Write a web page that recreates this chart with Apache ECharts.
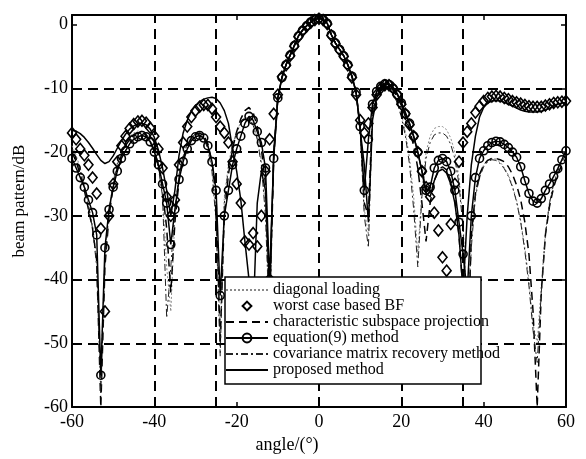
<!DOCTYPE html>
<html>
<head>
<meta charset="utf-8">
<script src="https://cdn.jsdelivr.net/npm/echarts@6/dist/echarts.min.js"></script>
<style>html,body{margin:0;padding:0;background:#fff;}#c{width:586px;height:459px;}</style>
</head>
<body>
<div id="c"></div>
<script>
// angle grid (degrees)
var angles = [-60,-59,-58,-57,-56,-55,-54,-53,-52,-51,-50,-49,-48,-47,-46,-45,-44,-43,-42,-41,
-40,-39,-38,-37,-36,-35,-34,-33,-32,-31,-30,-29,-28,-27,-26,-25,-24,-23,-22,-21,
-20,-19,-18,-17,-16,-15,-14,-13,-12,-11,-10,-9,-8,-7,-6,-5,-4,-3,-2,-1,
0,1,2,3,4,5,6,7,8,9,10,11,12,13,14,15,16,17,18,19,
20,21,22,23,24,25,26,27,28,29,30,31,32,33,34,35,36,37,38,39,
40,41,42,43,44,45,46,47,48,49,50,51,52,53,54,55,56,57,58,59,60];

var diagonalLoading = [-19,-20.5,-22.5,-25,-28,-31.5,-37,-55,-36,-29,
-24.5,-21.7,-20,-18.6,-17.6,-17,-16.7,-16.7,-17,-18,
-19.7,-22.3,-26.5,-38,-45,-30,-23.8,-20.7,-18.8,-17.7,
-17.2,-17.1,-17.6,-19.2,-22.5,-30,-48,-27,-22,-18.8,
-16.8,-15.3,-14.6,-14.6,-15.6,-17.8,-21.5,-29,-46,-20,
-11.5,-8.3,-6.3,-4.8,-3.3,-1.8,-0.9,-0.2,0.4,0.8,
1.0,0.8,0.2,-1.6,-2.9,-3.9,-4.9,-6.3,-8.1,-10.6,
-16.3,-29,-33,-13.8,-10.9,-9.9,-9.6,-9.8,-10.6,-12,
-14,-16.8,-21,-27,-36,-26,-20,-17.5,-16.3,-16,
-16,-16.5,-17.8,-20,-24,-31,-46,-34,-26.5,-23.5,
-22,-21.2,-21,-21.1,-21.6,-22.4,-23.6,-25.3,-27.6,-30.8,
-35,-40,-47,-50,-41,-32.5,-27.8,-24.8,-22.8,-21.3,-20.3];

var worstCase = [-17,-18,-19.5,-20.5,-22,-24,-26.5,-32,-45,-30,
-25,-21.5,-19,-17.5,-16.3,-15.6,-15.2,-15.1,-15.4,-16.2,
-17.5,-19.5,-22.5,-27,-30,-27.5,-22,-18.5,-16,-14.5,
-13.5,-12.9,-12.6,-12.6,-13.2,-14.5,-16,-17,-18.5,-21.5,
-25,-28,-34,-34.5,-32.7,-34.8,-30,-23,-18,-14,
-11,-8.2,-6.4,-4.9,-3.4,-1.9,-1,-0.3,0.3,0.7,
0.9,0.7,0.1,-1.7,-3,-4,-5,-6.4,-8.3,-11,
-15,-17,-15.5,-13,-11,-10,-9.5,-9.5,-10,-11,
-12.5,-14,-15.7,-17.5,-20,-23,-25.5,-27,-29.5,-32.3,
-36.5,-38.6,-31.3,-25,-21.5,-18.5,-16.8,-15.5,-13.8,-12.8,
-12,-11.5,-11.3,-11.2,-11.3,-11.5,-11.7,-12,-12.2,-12.4,
-12.6,-12.8,-12.9,-12.9,-12.9,-12.7,-12.5,-12.3,-12.2,-12.1,-12];

var subspaceProjection = [-20,-21.5,-23.5,-26,-29,-32,-37,-60,-38,-30,
-25.5,-22.5,-20.5,-19,-18,-17.3,-17,-17,-17.3,-18.2,
-19.8,-22,-26,-32,-42,-31,-24.5,-21,-19,-17.8,
-17.2,-17,-17.4,-18.7,-21.5,-27,-50,-30,-23.5,-19.5,
-16.8,-14.8,-13.5,-13,-13.8,-16,-19.5,-25,-45,-21,
-11.5,-8.3,-6.3,-4.8,-3.3,-1.8,-0.9,-0.2,0.4,0.8,
1.0,0.8,0.2,-1.6,-2.9,-3.9,-4.9,-6.3,-8.1,-10.6,
-16,-28,-30,-13,-10.8,-9.9,-9.6,-9.7,-10.3,-11.3,
-12.7,-14.5,-16.5,-19,-22.5,-28,-34,-28,-24.5,-22.8,
-22.3,-22.8,-24.5,-27.5,-33,-42,-55,-33,-26.5,-23.5,
-22,-21.3,-21,-21,-21.2,-21.5,-22.3,-23.5,-25.2,-27.5,
-31,-36,-45,-60,-42,-33,-28.5,-25.5,-23.5,-22,-21];

var equation9 = [-21,-22.5,-24,-25.5,-27.5,-29.5,-33,-55,-35,-29,
-25.5,-23,-21,-19.8,-18.7,-18,-17.6,-17.4,-17.6,-18.4,
-20,-22,-25,-28,-34.5,-29,-24.3,-21.5,-19.5,-18.2,
-17.6,-17.4,-17.8,-19,-21.5,-26,-42.5,-30,-26,-22,
-19.5,-17.5,-15.5,-14.4,-15,-16.8,-18.5,-22.5,-40,-21,
-11.5,-8.3,-6.3,-4.8,-3.3,-1.8,-0.9,-0.2,0.4,0.8,
1.0,0.8,0.2,-1.6,-2.9,-3.9,-4.9,-6.3,-8.1,-10.6,
-16,-26,-18,-12.5,-10.5,-9.7,-9.3,-9.4,-10,-11,
-12.3,-14,-15.5,-17.5,-20,-23,-26,-25.5,-22.5,-21.3,
-21,-21.5,-23,-26,-31,-36,-42,-30,-24,-21,
-19.8,-19,-18.5,-18.3,-18.4,-18.8,-19.3,-20,-20.8,-22.3,
-24.5,-26.5,-27.7,-28,-27.3,-26,-25,-23.8,-22.6,-21.2,-19.8];

var covarianceRecovery = [-19.5,-21,-23,-25.5,-28.5,-32,-38,-58,-37,-29.5,
-25,-22,-20.2,-18.8,-17.8,-17.2,-16.9,-16.9,-17.2,-18.2,
-20,-22.5,-27,-46,-38,-29,-23.5,-20.5,-18.7,-17.6,
-17.2,-17.2,-17.8,-19.5,-23,-31,-52,-28,-22.5,-19,
-17,-15.5,-14.8,-14.8,-15.8,-18,-22,-30,-48,-20,
-11.5,-8.3,-6.3,-4.8,-3.3,-1.8,-0.9,-0.2,0.4,0.8,
1.0,0.8,0.2,-1.6,-2.9,-3.9,-4.9,-6.3,-8.1,-10.6,
-16.5,-30,-35,-14,-11,-10,-9.7,-9.9,-10.8,-12.3,
-14.5,-17.5,-22,-29,-38,-27,-21,-18.5,-17.3,-17,
-17,-17.5,-18.8,-21,-25,-32,-48,-35,-27,-24,
-22.3,-21.5,-21.2,-21.3,-21.8,-22.6,-23.8,-25.5,-27.8,-31,
-35.5,-41,-48,-53,-42,-33,-28,-25,-23,-21.5,-20.5];

var proposed = [-16.6,-16.7,-17.1,-17.7,-18.5,-19.4,-20.4,-21.3,-21.8,-21.5,
-20.6,-19.4,-18.2,-17.2,-16.4,-15.9,-15.6,-15.5,-15.7,-16.4,
-17.7,-19.7,-22.5,-26,-30,-26,-20.5,-17,-15,-13.6,
-12.7,-12.1,-11.7,-11.5,-11.4,-11.6,-12.3,-13.5,-15.5,-19.5,
-23,-27.5,-34,-40,-46,-28,-23,-26,-42,-20,
-11.5,-8.3,-6.3,-4.8,-3.3,-1.8,-0.9,-0.2,0.4,0.8,
1.0,0.8,0.2,-1.6,-2.9,-3.9,-4.9,-6.3,-8.1,-10.6,
-16.5,-22,-31,-15,-11.5,-10,-9.4,-9.3,-9.8,-10.8,
-12.2,-13.8,-15.6,-17.6,-20,-23,-26.5,-27,-24.5,-23,
-22.7,-23.3,-25,-28,-33,-42,-30,-22,-17.5,-14.5,
-13,-12.3,-12,-11.9,-12,-12.2,-12.5,-12.8,-13.1,-13.4,
-13.6,-13.7,-13.7,-13.7,-13.6,-13.4,-13.1,-12.8,-12.5,-12.3,-12.2];

var seriesNames = ['diagonal loading','worst case based BF','characteristic subspace projection',
  'equation(9) method','covariance matrix recovery method','proposed method'];

// dashed reference lines
var gridX = [-40,-25,0,20,35];
var gridY = [-10,-20,-30,-40,-50];
var xTicks = {min:-60, max:60, interval:20};
var yTicks = {min:-60, max:1.5, interval:10};

function pairs(arr){ return angles.map(function(a,i){ return [a, arr[i]]; }); }

var FONT = 'Liberation Serif';
var NOFILL = 'rgba(255,255,255,0)';
var chart = echarts.init(document.getElementById('c'), null, {renderer:'canvas'});

var axisCommon = {
  axisLine:{show:true, onZero:false, lineStyle:{color:'#000', width:2}},
  axisTick:{show:true, inside:true, length:5, lineStyle:{color:'#000', width:1.5}},
  splitLine:{show:false}
};

var markData = gridX.map(function(v){return {xAxis:v};}).concat(gridY.map(function(v){return {yAxis:v};}));

function plainLine(name, values, color, width, type, z){
  return {name:name, type:'line', data:pairs(values), showSymbol:false, symbol:'none', z:z,
    lineStyle:{color:color, width:width, type:type},
    itemStyle:{color:NOFILL, borderColor:NOFILL, borderWidth:0}};
}

var option = {
  animation:false,
  backgroundColor:'#fff',
  grid:{left:72, right:20, top:15, bottom:46},
  xAxis:[
    Object.assign({type:'value', position:'bottom', min:xTicks.min, max:xTicks.max, interval:xTicks.interval,
      name:'angle/(°)', nameLocation:'middle', nameGap:24,
      nameTextStyle:{fontFamily:FONT, fontSize:18, color:'#000', padding:[0,64,0,0]},
      axisLabel:{fontFamily:FONT, fontSize:18, color:'#000', margin:6}}, axisCommon),
    Object.assign({type:'value', position:'top', min:xTicks.min, max:xTicks.max, interval:xTicks.interval,
      axisLabel:{show:false}}, axisCommon)
  ],
  yAxis:[
    Object.assign({type:'value', position:'left', min:yTicks.min, max:yTicks.max, interval:yTicks.interval,
      name:'beam pattern/dB', nameLocation:'middle', nameGap:44,
      nameTextStyle:{fontFamily:FONT, fontSize:17, color:'#000', padding:[0,0,0,20]},
      axisLabel:{fontFamily:FONT, fontSize:18, color:'#000', margin:4, showMaxLabel:false,
        formatter:function(v){ return (v % 10 === 0) ? String(v) : ''; }}}, axisCommon),
    Object.assign({type:'value', position:'right', min:yTicks.min, max:yTicks.max, interval:yTicks.interval,
      axisLabel:{show:false}}, axisCommon)
  ],
  legend:{
    data:seriesNames, orient:'vertical', left:225, top:282, padding:0, itemGap:0,
    itemWidth:42, itemHeight:11, zlevel:1, z:2,
    textStyle:{fontFamily:FONT, fontSize:16, color:'#000', lineHeight:15}
  },
  graphic:[{type:'rect', zlevel:1, z:0, shape:{x:225, y:277, width:256, height:107},
    style:{fill:'#fff', stroke:'#000', lineWidth:1.5}, silent:true}],
  series:[
    {name:'grid', type:'line', data:[], z:1, silent:true,
      markLine:{silent:true, symbol:['none','none'], label:{show:false},
        lineStyle:{color:'#000', type:[10,6], width:2}, data:markData}},
    plainLine(seriesNames[0], diagonalLoading, '#8a8a8a', 1, [2,2], 2),
    {name:seriesNames[1], type:'line', data:pairs(worstCase), symbol:'diamond', symbolSize:[9,11], showAllSymbol:true,
      lineStyle:{width:0, opacity:0, color:NOFILL},
      itemStyle:{color:NOFILL, borderColor:'#000', borderWidth:1.6}, z:4},
    plainLine(seriesNames[2], subspaceProjection, '#000', 1.5, [8,5], 2),
    {name:seriesNames[3], type:'line', data:pairs(equation9), symbol:'circle', symbolSize:8, showAllSymbol:true,
      lineStyle:{color:'#000', width:1.5}, itemStyle:{color:NOFILL, borderColor:'#000', borderWidth:1.6}, z:3},
    plainLine(seriesNames[4], covarianceRecovery, '#222', 1, [7,3,2,3], 2),
    plainLine(seriesNames[5], proposed, '#000', 1.5, 'solid', 3)
  ]
};
chart.setOption(option);
</script>
</body>
</html>
